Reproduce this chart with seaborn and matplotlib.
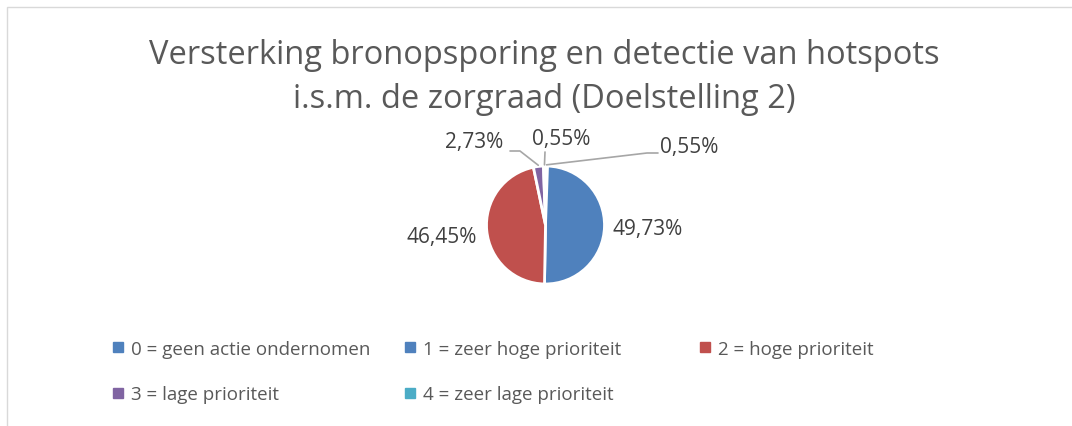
import numpy as np
import seaborn as sns
from matplotlib import pyplot as plt
from matplotlib.lines import Line2D
from matplotlib.patches import Rectangle

categories = ["0 = geen actie ondernomen", "1 = zeer hoge prioriteit", "2 = hoge prioriteit",
              "3 = lage prioriteit", "4 = zeer lage prioriteit"]
shares = [0.55, 49.73, 46.45, 2.73, 0.55]
share_labels = ["0,55%", "49,73%", "46,45%", "2,73%", "0,55%"]
colors = ["#4F81BD", "#4F81BD", "#C0504D", "#8064A2", "#4BACC6"]

sns.set_theme(style="white")
plt.rcParams['font.family'] = ['Open Sans', 'DejaVu Sans']

W, H = 1072, 427
cx, cy, R = 545.5, 226, 59.0


def to_data(px, py):
    return (px - cx) / R, (cy - py) / R


fig = plt.figure(figsize=(W / 100, H / 100), dpi=100)
ax = fig.add_axes([0, 0, 1, 1])

# chart frame
fig.patches.append(Rectangle((7 / W, -0.05), 1.1, 1 - 8 / H + 0.05, transform=fig.transFigure,
                             fill=False, edgecolor="#D9D9D9", linewidth=1))

wedges, _ = ax.pie(shares, colors=colors, startangle=90, counterclock=False, radius=1,
                   wedgeprops=dict(edgecolor="white", linewidth=2))
ax.set_xlim(-cx / R, (W - cx) / R)
ax.set_ylim(-(H - cy) / R, cy / R)
ax.axis("off")

# label positions (pixels) and leader-line elbows
label_pos = [(689, 148), (648, 230), (442, 238), (474, 143), (561, 140)]
elbows = {0: [(647, 154), (658, 154)], 3: [(520, 152), (510, 152)], 4: [(545, 153)]}

for i, w in enumerate(wedges):
    lx, ly = to_data(*label_pos[i])
    ax.text(lx, ly, share_labels[i], ha="center", va="center", fontsize=15, color="#404040")
    if i in elbows:
        mid = np.deg2rad((w.theta1 + w.theta2) / 2)
        pts = [(np.cos(mid) * 1.02, np.sin(mid) * 1.02)] + [to_data(*p) for p in elbows[i]]
        xs, ys = zip(*pts)
        ax.plot(xs, ys, color="#A6A6A6", linewidth=1.2)

fig.text(0.508, 1 - 55 / H, "Versterking bronopsporing en detectie van hotspots",
         ha="center", va="center", fontsize=23.5, color="#595959")
fig.text(0.508, 1 - 100 / H, "i.s.m. de zorgraad (Doelstelling 2)",
         ha="center", va="center", fontsize=23.5, color="#595959")

# legend in three columns, row-major order
columns = [[0, 3], [1, 4], [2]]
col_x = [112, 404, 699]
for xs, idx in zip(col_x, columns):
    handles = [Line2D([], [], marker="s", linestyle="none", markersize=6.5,
                      markerfacecolor=colors[i], markeredgecolor=colors[i]) for i in idx]
    leg = fig.legend(handles, [categories[i] for i in idx], loc="upper left",
                     bbox_to_anchor=(xs / W, 1 - 341 / H), frameon=False, fontsize=13.5,
                     handlelength=0.6, handletextpad=0.4, labelspacing=1.45, borderpad=0,
                     borderaxespad=0)
    for t in leg.get_texts():
        t.set_color("#595959")

fig.savefig("out.png", dpi=100)
